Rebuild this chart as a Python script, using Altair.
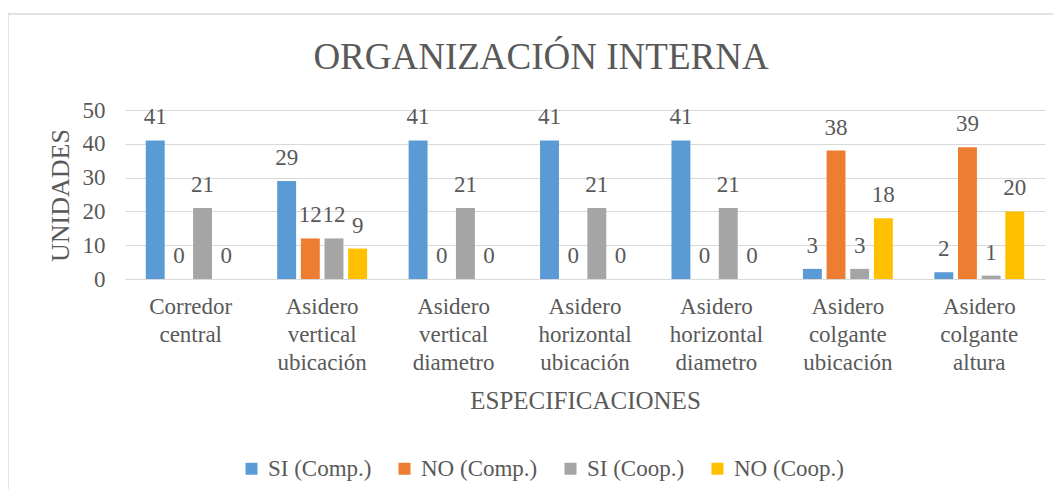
import altair as alt
import pandas as pd

categories = [
    "Corredor central",
    "Asidero vertical ubicación",
    "Asidero vertical diametro",
    "Asidero horizontal ubicación",
    "Asidero horizontal diametro",
    "Asidero colgante ubicación",
    "Asidero colgante altura",
]
series = ["SI (Comp.)", "NO (Comp.)", "SI (Coop.)", "NO (Coop.)"]
si_comp = [41, 29, 41, 41, 41, 3, 2]
no_comp = [0, 12, 0, 0, 0, 38, 39]
si_coop = [21, 12, 21, 21, 21, 3, 1]
no_coop = [0, 9, 0, 0, 0, 18, 20]
colors = ["#5B9BD5", "#ED7D31", "#A5A5A5", "#FFC000"]
chart_title = ["ORGANIZACIÓN INTERNA"]

rows = []
for s, vals in zip(series, [si_comp, no_comp, si_coop, no_coop]):
    for c, v in zip(categories, vals):
        rows.append({"cat": c, "series": s, "value": v})
df = pd.DataFrame(rows)

FONT = "Liberation Serif"
TXT = "#595959"
GRID = "#d9d9d9"

x = alt.X(
    "cat:N",
    sort=categories,
    scale=alt.Scale(paddingInner=0.28, paddingOuter=0.14),
    axis=alt.Axis(
        title="ESPECIFICACIONES",
        labelAngle=0,
        labelExpr="split(datum.label, ' ')",
        labelLineHeight=28,
        labelPadding=16,
        labelBaseline="top",
        ticks=False,
        domainColor=GRID,
        domainWidth=1,
        labelFont=FONT,
        labelFontSize=23,
        labelColor=TXT,
        titleFont=FONT,
        titleFontSize=25,
        titleFontWeight="normal",
        titleColor=TXT,
        titleY=121,
        titleBaseline="middle",
    ),
)
xo = alt.XOffset("series:N", sort=series, scale=alt.Scale(paddingInner=0.2, paddingOuter=0.1))
y = alt.Y(
    "value:Q",
    scale=alt.Scale(domain=[0, 50]),
    axis=alt.Axis(
        values=[0, 10, 20, 30, 40, 50],
        title="UNIDADES",
        grid=True,
        gridColor=GRID,
        domain=False,
        ticks=False,
        labelPadding=20,
        labelFont=FONT,
        labelFontSize=23,
        labelColor=TXT,
        titleFont=FONT,
        titleFontSize=26,
        titleFontWeight="normal",
        titleColor=TXT,
        titleX=-65,
        titleY=85,
        titleAngle=-90,
        titleBaseline="middle",
        titleAlign="center",
    ),
)
color = alt.Color(
    "series:N",
    sort=series,
    scale=alt.Scale(domain=series, range=colors),
    legend=alt.Legend(
        orient="none",
        legendX=115,
        legendY=347,
        direction="horizontal",
        title=None,
        symbolType="square",
        symbolSize=144,
        symbolStrokeWidth=0,
        labelFont=FONT,
        labelFontSize=23,
        labelColor=TXT,
        columnPadding=21,
        labelOffset=5,
    ),
)

bars = alt.Chart(df).mark_bar().encode(x=x, xOffset=xo, y=y, color=color)
labels = alt.Chart(df).mark_text(
    dy=-23, baseline="middle", font=FONT, fontSize=23, color=TXT
).encode(x=x, xOffset=xo, y=y, text="value:Q")

border = alt.Chart(pd.DataFrame({"a": [0]})).mark_rect(
    fillOpacity=0, stroke=GRID, strokeWidth=1.5
).encode(x=alt.value(-117), x2=alt.value(960), y=alt.value(-96), y2=alt.value(420))

title = alt.Chart(pd.DataFrame({"t": chart_title})).mark_text(
    font=FONT, fontSize=37, color=TXT, align="center", baseline="alphabetic"
).encode(x=alt.value(416), y=alt.value(-41), text="t:N")

chart = alt.layer(border, bars, labels, title).properties(
    width=920,
    height=169,
    autosize=alt.AutoSizeParams(type="none"),
    padding={"left": 117, "top": 102, "right": 8, "bottom": 210},
).configure(font=FONT).configure_view(stroke=None)

chart.save("out.html", embed_options={"renderer": "svg", "actions": False})
